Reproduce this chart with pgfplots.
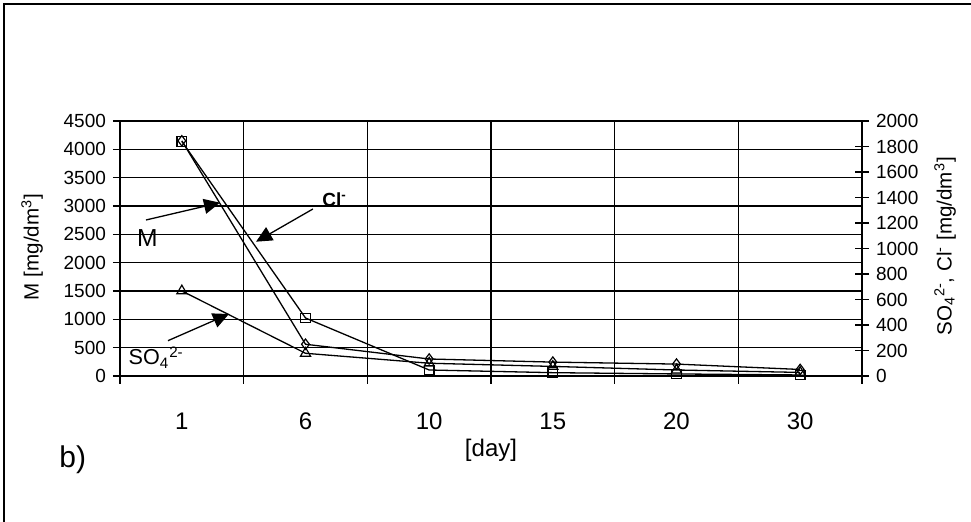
\documentclass[border=0pt]{standalone}
\usepackage{fontspec}
\setmainfont{Liberation Sans}
\usepackage{pgfplots}
\pgfplotsset{compat=1.18}
\usetikzlibrary{arrows.meta}

\begin{document}
\begin{tikzpicture}
\useasboundingbox (0,0) rectangle (485.5pt,261pt);
\draw[line width=0.6pt] (2pt,0pt) -- (2pt,259pt) -- (485.5pt,259pt);
\pgfplotsset{
  base/.style={
    scale only axis, width=371pt, height=127.5pt,
    at={(60pt,73pt)}, anchor=south west,
    xmin=-0.5, xmax=5.5,
    /pgf/number format/assume math mode=true,
    /pgf/number format/set thousands separator={},
    axis line style={line width=0.6pt},
    every tick/.style={black, line width=0.6pt},
  }
}
\begin{axis}[base,
  axis x line*=bottom, axis y line*=left,
  ymin=0, ymax=4500, ytick={0,500,...,4500},
  xtick={0,...,5}, xticklabels={1,6,10,15,20,30},
  major x tick style={draw=none},
  minor xtick={-0.5,0.5,...,5.5},
  xminorgrids, ymajorgrids,
  grid style={black, line width=0.55pt},
  minor grid style={black, line width=0.55pt},
  major grid style={black, line width=0.55pt},
  tick align=outside,
  major tick length=3.5pt, minor tick length=4pt,
  yticklabel style={font=\fontsize{9.5}{11}\selectfont},
  xticklabel style={font=\fontsize{12}{14}\selectfont, yshift=-11.5pt},
  ylabel={M [mg/dm\textsuperscript{3}]},
  ylabel style={font=\fontsize{10.3}{12}\selectfont, at={(axis description cs:-0.1186,0.506)}, anchor=center, rotate=0},
  clip=false,
]
\addplot[black, line width=0.65pt, mark=diamond, mark size=2.6pt, mark options={solid, fill=white, line width=0.6pt}]
  coordinates {(0,4150) (1,560) (2,300) (3,245) (4,210) (5,115)};

\draw[-{Triangle[length=8pt,width=7.5pt]}, line width=0.65pt] (axis cs:-0.29,2753) -- (axis cs:0.3086,3058);
\draw[-{Triangle[length=8pt,width=7.5pt]}, line width=0.65pt] (axis cs:1.06,2947) -- (axis cs:0.6,2370);
\draw[-{Triangle[length=8pt,width=7.5pt]}, line width=0.65pt] (axis cs:-0.112,623) -- (axis cs:0.381,1094);

\node[font=\fontsize{12.3}{14}\selectfont, anchor=base west, inner sep=0pt] at (axis cs:-0.365,2282) {M};
\node[font=\bfseries\fontsize{9.5}{11}\selectfont, anchor=base west, inner sep=0pt] at (axis cs:1.133,2988) {Cl\textsuperscript{-}};
\node[font=\fontsize{10.8}{13}\selectfont, anchor=base west, inner sep=0pt] at (axis cs:-0.433,194) {SO\textsubscript{4}\textsuperscript{2-}};

\node[font=\fontsize{12}{14}\selectfont] at (axis description cs:0.5,-0.29) {[day]};
\node[font=\fontsize{15}{18}\selectfont] at (axis description cs:-0.0637,-0.329) {b)};
\end{axis}

\begin{axis}[base,
  axis y line*=right, axis x line=none,
  ymin=0, ymax=2000, ytick={0,200,...,2000},
  tick align=center, major tick length=7pt,
  yticklabel style={font=\fontsize{9.5}{11}\selectfont},
  ylabel={SO\textsubscript{4}\textsuperscript{2-}, Cl\textsuperscript{-} [mg/dm\textsuperscript{3}]},
  ylabel style={font=\fontsize{10.3}{12}\selectfont, at={(axis description cs:1.112,0.508)}, anchor=center, rotate=0},
  clip=false,
]
\addplot[black, line width=0.65pt, mark=square, mark size=2.4pt, mark options={solid, fill=white, line width=0.6pt}]
  coordinates {(0,1840) (1,455) (2,47) (3,26) (4,16) (5,8)};
\addplot[black, line width=0.65pt, mark=triangle, mark size=2.9pt, mark options={solid, fill=white, line width=0.6pt}]
  coordinates {(0,667) (1,178) (2,100) (3,75) (4,47) (5,28)};
\end{axis}
\end{tikzpicture}
\end{document}
